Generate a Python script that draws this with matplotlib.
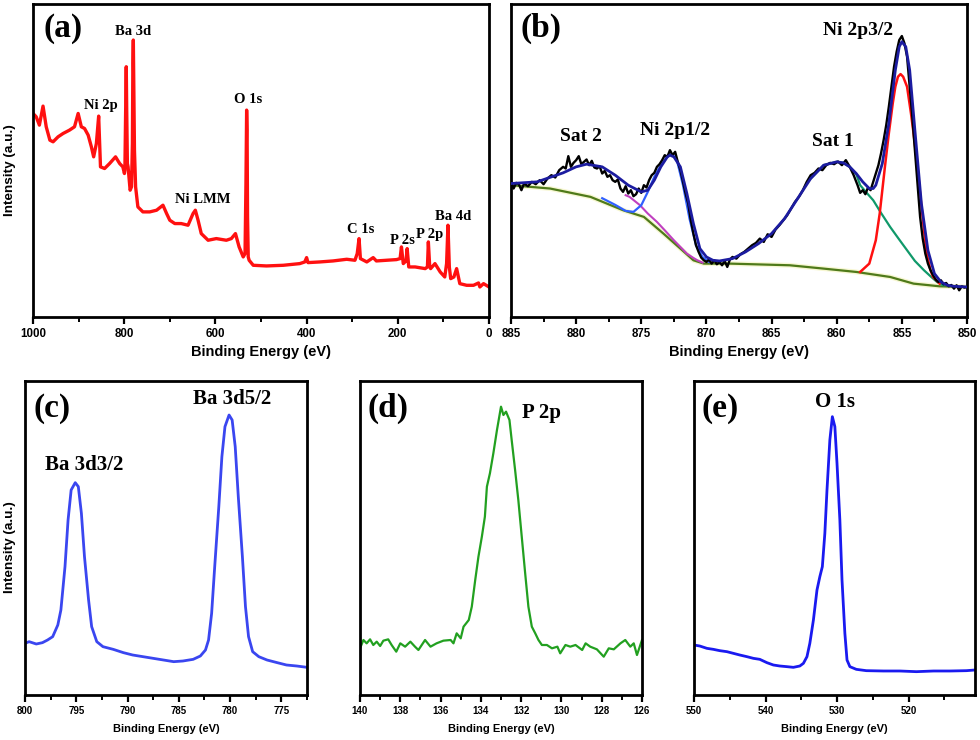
import matplotlib
matplotlib.use("Agg")
import matplotlib.pyplot as plt
from matplotlib.ticker import MultipleLocator

# ---------------- data ----------------
# (a) survey spectrum
a_energy = [1000, 993, 986, 978, 971, 963, 956, 945, 934, 920, 909, 901, 894, 887,
            879, 872, 867, 861, 856, 852, 843, 832, 819, 810, 803, 799.5, 798.5, 797,
            795.5, 794.5, 793, 791.5, 787, 784, 782, 781, 780, 779, 777.5, 775, 770,
            759, 744, 729, 715, 707, 700, 689, 675, 660, 649, 644, 638, 631, 616, 598,
            576, 565, 556, 548, 539, 535, 533, 531.5, 530.5, 529.5, 528, 526, 517, 488,
            451, 415, 404, 400, 397, 371, 342, 312, 294, 289, 285, 282, 268, 254, 247,
            225, 203, 195, 192, 188, 182, 179.5, 176, 162, 140, 135, 133, 130, 128,
            118.5, 107, 97, 93, 90, 87, 84, 77, 71, 64, 49, 34, 23, 20, 12, 0]
a_intensity = [610, 600, 575, 632, 570, 530, 525, 540, 550, 560, 570, 610, 570, 565,
               545, 510, 480, 520, 602, 450, 445, 460, 480, 460, 450, 430, 440, 600,
               750, 620, 460, 450, 380, 390, 520, 760, 830, 700, 500, 390, 330,
               315, 315, 320, 335, 310, 290, 280, 280, 275, 310, 320, 290, 250, 230, 235,
               230, 235, 250, 210, 180, 190, 400, 620, 560, 300, 180, 170, 155, 153,
               155, 160, 165, 178, 163, 165, 168, 173, 170, 190, 235, 175, 165, 178, 168,
               170, 172, 175, 210, 160, 168, 205, 150, 150, 145, 150, 225, 150, 145,
               160, 135, 120, 160, 275, 150, 115, 120, 145, 100, 95, 95, 102, 90, 100, 90]
a_labels = ["Ba 3d", "Ni 2p", "O 1s", "Ni LMM", "C 1s", "P 2s", "P 2p", "Ba 4d"]
a_label_E = [780.5, 852, 528, 627, 281.5, 190, 129.5, 78]
a_label_I = [855, 635, 652, 352, 262, 230, 247, 302]

# (b) Ni 2p high-resolution spectrum and fit
b_energy = [885.0, 884.8, 884.6, 884.4, 884.2, 884.0, 883.7, 883.4, 883.1, 882.8, 882.5,
            882.2, 881.9, 881.6, 881.3, 881.0, 880.8, 880.6, 880.4, 880.2, 880.0, 879.8,
            879.6, 879.4, 879.2, 879.0, 878.8, 878.6, 878.4, 878.2, 878.0, 877.8, 877.6,
            877.4, 877.2, 877.0, 876.8, 876.6, 876.4, 876.2, 876.0, 875.8, 875.6, 875.4,
            875.2, 875.0, 874.8, 874.6, 874.4, 874.2, 874.0, 873.8, 873.6, 873.4, 873.2,
            873.0, 872.8, 872.6, 872.4, 872.2, 872.0, 871.8, 871.6, 871.4, 871.2, 871.0,
            870.8, 870.6, 870.4, 870.2, 870.0, 869.8, 869.6, 869.4, 869.2, 869.0, 868.8,
            868.6, 868.4, 868.2, 868.0, 867.7, 867.4, 867.1, 866.8, 866.5, 866.2, 865.9,
            865.6, 865.3, 865.0, 864.7, 864.4, 864.1, 863.8, 863.5, 863.2, 862.9, 862.6,
            862.3, 862.0, 861.7, 861.4, 861.1, 860.8, 860.5, 860.2, 859.9, 859.6, 859.3,
            859.0, 858.7, 858.4, 858.2, 858.0, 857.8, 857.6, 857.4, 857.2, 857.0, 856.8,
            856.6, 856.4, 856.2, 856.0, 855.8, 855.6, 855.4, 855.2, 855.0, 854.8, 854.6,
            854.4, 854.2, 854.0, 853.8, 853.6, 853.4, 853.2, 853.0, 852.8, 852.6, 852.4,
            852.2, 852.0, 851.8, 851.6, 851.4, 851.2, 851.0, 850.8, 850.6, 850.4, 850.2,
            850.0]
b_intensity = [405, 385, 402, 398, 380, 400, 392, 405, 398, 410, 398,
               415, 425, 418, 440, 450, 445, 482, 450, 462, 470, 482,
               458, 465, 472, 455, 468, 448, 445, 452, 430, 438, 420,
               425, 410, 405, 412, 385, 375, 392, 370, 380, 362, 368,
               385, 372, 395, 388, 410, 425, 432, 450, 458, 470, 485,
               480, 500, 485, 495, 465, 440, 405, 370, 340, 290, 250,
               215, 195, 178, 170, 165, 172, 160, 170, 158, 165, 155,
               168, 150, 172, 180, 175, 188, 195, 205, 215, 222, 235,
               225, 248, 240, 262, 275, 290, 305, 325, 345, 360, 380,
               405, 425, 432, 445, 440, 455, 462, 458, 466, 455, 470,
               450, 425, 395, 372, 380, 368, 388, 380, 405, 430, 455,
               490, 530, 575, 630, 690, 750, 795, 830, 842, 820, 780,
               690, 600, 500, 400, 300, 235, 190, 160, 140, 125, 112,
               105, 110, 98, 102, 92, 96, 85, 95, 80, 92, 88,
               90]
env_energy = [885, 883, 881, 880, 879.2, 878, 877, 876, 875, 874.5, 874, 873.5, 873,
              872.8, 872.5, 872, 871.5, 871, 870.5, 870, 869.5, 869, 868, 867, 866,
              865, 864, 863, 862, 861, 860, 859.5, 859, 858.5, 858, 857.5, 857.2, 857,
              856.5, 856, 855.5, 855.2, 855, 854.7, 854.4, 854, 853.5, 853, 852.5, 852,
              851.5, 851, 850]
env_intensity = [400, 405, 432, 450, 458, 450, 425, 395, 375, 380, 410, 450, 480,
                 485, 480, 450, 370, 280, 205, 180, 170, 168, 175, 195, 220,
                 250, 295, 355, 415, 455, 465, 462, 450, 430, 405, 385, 385, 395,
                 460, 580, 740, 810, 825, 810, 740, 560, 340, 200, 130, 105,
                 95, 92, 90]
red_energy = [858.2, 857.5, 857.0, 856.7, 856.3, 856.0, 855.7, 855.5, 855.3, 855.1,
              854.9, 854.6, 854.3, 854.1, 853.8, 853.6, 853.3, 853.1, 852.8, 852.6, 852.1]
red_intensity = [135, 160, 230, 310, 450, 550, 640, 690, 720, 728,
                 720, 690, 610, 550, 450, 370, 260, 190, 140, 120, 100]
green_energy = [862, 861, 860, 859.5, 859, 858.5, 858.2, 857.7, 857.2, 856.6, 855.9,
                855.2, 854.6, 854.0, 853.3, 852.8, 852.3, 851.8]
green_intensity = [415, 455, 465, 462, 450, 428, 395, 372, 350, 312, 270,
                   232, 200, 168, 140, 122, 105, 95]
magenta_energy = [876.2, 875.9, 875.1, 874.5, 873.8, 873.2, 872.5, 872.0, 871.5,
                  871.0, 870.7, 870.3]
magenta_intensity = [365, 360, 335, 310, 285, 260, 230, 210, 190, 177, 170, 163]
lblue_energy = [878.0, 877.0, 876.2, 875.6, 875.0, 874.5, 874.0, 873.5, 873.0, 872.7,
                872.3, 871.8, 871.3, 870.8, 870.3, 869.8]
lblue_intensity = [356, 336, 318, 315, 335, 375, 420, 455, 480, 488,
                   475, 395, 295, 215, 180, 165]
bg_energy = [885, 882, 878.9, 876.4, 874.8, 873.3, 872, 871, 870.2, 868.2, 863.6,
             861, 858.5, 855.9, 854.1, 852.1, 850]
bg_intensity = [395, 385, 360, 320, 300, 250, 205, 170, 160, 160, 155,
                145, 135, 120, 100, 92, 90]
b_labels = ["Sat 2", "Ni 2p1/2", "Sat 1", "Ni 2p3/2"]
b_label_E = [879.6, 872.4, 860.3, 858.35]
b_label_I = [540, 560, 525, 860]

# (c) Ba 3d
c_energy = [800, 799.6, 798.9, 798.3, 797.8, 797.3, 796.8, 796.5, 796.1, 795.8, 795.5,
            795.1, 794.8, 794.5, 794.2, 793.8, 793.5, 793.0, 792.4, 791.4, 790.4, 789.5,
            788.5, 787.5, 786.5, 785.5, 784.6, 783.6, 782.9, 782.4, 782.1, 781.8, 781.5,
            781.1, 780.8, 780.5, 780.1, 779.8, 779.5, 779.2, 778.8, 778.5, 778.2, 777.8,
            777.2, 776.4, 775.4, 774.5, 773.5, 772.5]
c_intensity = [155, 160, 153, 157, 165, 175, 210, 255, 385, 525, 615,
               637, 625, 545, 415, 285, 205, 160, 145, 137, 127, 120,
               115, 110, 105, 100, 102, 107, 117, 135, 165, 245, 385,
               565, 715, 805, 840, 825, 745, 595, 415, 265, 175, 130,
               115, 105, 97, 90, 87, 83]
c_labels = ["Ba 3d3/2", "Ba 3d5/2"]
c_label_E = [794.2, 779.8]
c_label_I = [690, 888]

# (d) P 2p
d_energy = [140.0, 139.83, 139.67, 139.5, 139.34, 139.17, 139.0, 138.84, 138.6, 138.43,
            138.2, 138.0, 137.76, 137.5, 137.27, 137.1, 136.77, 136.5, 136.2, 135.86,
            135.5, 135.36, 135.2, 135.0, 134.86, 134.6, 134.45, 134.28, 134.12, 133.95,
            133.8, 133.7, 133.55, 133.38, 133.2, 133.0, 132.88, 132.75, 132.58, 132.47,
            132.3, 132.14, 131.97, 131.8, 131.64, 131.47, 131.3, 131.14, 130.97, 130.72,
            130.47, 130.2, 130.06, 129.8, 129.56, 129.3, 128.97, 128.8, 128.57, 128.24,
            127.9, 127.65, 127.4, 127.07, 126.83, 126.58, 126.41, 126.25, 126.0]
d_intensity = [140, 165, 155, 167, 150, 160, 147, 163, 167, 150,
               130, 155, 145, 160, 145, 135, 165, 145, 155, 163,
               165, 155, 185, 170, 205, 225, 265, 345, 415, 475,
               535, 625, 665, 725, 795, 865, 840, 850, 825, 765,
               675, 585, 475, 365, 265, 205, 185, 165, 150, 150,
               140, 145, 125, 150, 145, 150, 135, 155, 145, 137,
               115, 140, 137, 155, 165, 145, 155, 120, 165]
d_labels = ["P 2p"]
d_label_E = [131.0]
d_label_I = [845]

# (e) O 1s
e_energy = [550, 549.2, 548.2, 547.3, 546.4, 545.4, 544.5, 543.6, 542.6, 541.7, 540.8,
            539.8, 538.9, 538.0, 537.0, 536.1, 535.2, 534.7, 534.2, 533.8, 533.3, 532.8,
            532.4, 532.05, 531.7, 531.4, 531.0, 530.65, 530.3, 530.0, 529.6, 529.3,
            528.9, 528.6, 528.2, 527.3, 525.9, 523.5, 521.2, 518.9, 516.5, 514.2,
            511.9, 510.7]
e_intensity = [150, 147, 140, 137, 133, 130, 125, 120, 115, 110, 107,
               97, 90, 87, 85, 83, 87, 95, 115, 155, 225, 315,
               355, 385, 485, 615, 765, 835, 805, 695, 525, 345,
               185, 105, 85, 77, 73, 72, 72, 70, 72, 72,
               73, 75]
e_labels = ["O 1s"]
e_label_E = [530.3]
e_label_I = [880]

# ---------------- figure ----------------
plt.rcParams['font.family'] = ['Liberation Sans', 'DejaVu Sans']
SERIF = ['Liberation Serif', 'DejaVu Serif']

W, H = 980, 740
fig = plt.figure(figsize=(W / 100, H / 100), dpi=100)


def rect(l, t, r, b):
    return [l / W, 1 - b / H, (r - l) / W, (b - t) / H]


def style(ax, xlim, ylim, major, minor, small):
    ax.set_xlim(*xlim)
    ax.set_ylim(*ylim)
    ax.set_yticks([])
    ax.xaxis.set_major_locator(MultipleLocator(major))
    ax.xaxis.set_minor_locator(MultipleLocator(minor))
    for s in ax.spines.values():
        s.set_linewidth(2.0)
        s.set_color('black')
    ax.tick_params(axis='x', which='major', direction='out', length=5, width=1.6,
                   pad=3, colors='black')
    ax.tick_params(axis='x', which='minor', direction='out', length=3.5, width=1.4)
    for lab in ax.get_xticklabels():
        lab.set_fontsize(7.0 if small else 8.3)
        lab.set_fontweight('bold')


def panel_letter(ax, txt, x, y):
    ax.text(x, y, txt, transform=ax.transAxes, ha='center', va='center',
            fontsize=24, fontweight='bold', family=SERIF)


# (a)
ax = fig.add_axes(rect(33, 4, 489, 317))
ax.plot(a_energy, a_intensity, color='#ff1010', lw=2.4)
style(ax, (1000, 0), (0, 938), 200, 100, False)
for t, e, i in zip(a_labels, a_label_E, a_label_I):
    ax.text(e, i, t, ha='center', va='center', fontsize=10.5, fontweight='bold',
            family=SERIF)
panel_letter(ax, '(a)', 0.066, 0.923)
fig.text(261 / W, 1 - 352 / H, 'Binding Energy (eV)', ha='center', va='center',
         fontsize=10.5, fontweight='bold')
fig.text(10 / W, 1 - 170 / H, 'Intensity (a.u.)', ha='center', va='center',
         rotation=90, fontsize=9.7, fontweight='bold')

# (b)
ax = fig.add_axes(rect(511, 4, 967, 317))
ax.plot(bg_energy, bg_intensity, color='#f7f7d2', lw=3.5, zorder=1)
ax.plot(bg_energy, bg_intensity, color='#4f7a1a', lw=1.6, zorder=2)
ax.plot(magenta_energy, magenta_intensity, color='#c040c0', lw=1.5, zorder=3)
ax.plot(lblue_energy, lblue_intensity, color='#3060ff', lw=1.6, zorder=3)
ax.plot(green_energy, green_intensity, color='#10996a', lw=1.6, zorder=3)
ax.plot(red_energy, red_intensity, color='#ff1010', lw=1.8, zorder=3)
ax.plot(b_energy, b_intensity, color='black', lw=1.7, zorder=4)
ax.plot(env_energy, env_intensity, color='#1c1ca0', lw=2.0, zorder=5)
style(ax, (885, 850), (0, 938), 5, 2.5, False)
for t, e, i in zip(b_labels, b_label_E, b_label_I):
    ax.text(e, i, t, ha='center', va='center', fontsize=14, fontweight='bold',
            family=SERIF)
panel_letter(ax, '(b)', 0.066, 0.923)
fig.text(739 / W, 1 - 352 / H, 'Binding Energy (eV)', ha='center', va='center',
         fontsize=10.5, fontweight='bold')

# (c)
ax = fig.add_axes(rect(25, 381, 307, 695))
ax.plot(c_energy, c_intensity, color='#3a46f0', lw=2.0)
style(ax, (800, 772.5), (0, 942), 5, 2.5, True)
for t, e, i in zip(c_labels, c_label_E, c_label_I):
    ax.text(e, i, t, ha='center', va='center', fontsize=15, fontweight='bold',
            family=SERIF)
panel_letter(ax, '(c)', 0.096, 0.914)
fig.text(166 / W, 1 - 729 / H, 'Binding Energy (eV)', ha='center', va='center',
         fontsize=8.0, fontweight='bold')
fig.text(10 / W, 1 - 547 / H, 'Intensity (a.u.)', ha='center', va='center',
         rotation=90, fontsize=9.7, fontweight='bold')

# (d)
ax = fig.add_axes(rect(360, 381, 642, 695))
ax.plot(d_energy, d_intensity, color='#22a020', lw=1.6)
style(ax, (140, 126), (0, 942), 2, 1, True)
for t, e, i in zip(d_labels, d_label_E, d_label_I):
    ax.text(e, i, t, ha='center', va='center', fontsize=15, fontweight='bold',
            family=SERIF)
panel_letter(ax, '(d)', 0.099, 0.914)
fig.text(501 / W, 1 - 729 / H, 'Binding Energy (eV)', ha='center', va='center',
         fontsize=8.0, fontweight='bold')

# (e)
ax = fig.add_axes(rect(694, 381, 975, 695))
ax.plot(e_energy, e_intensity, color='#1a1af0', lw=2.0)
style(ax, (550, 510.7), (0, 942), 10, 5, True)
for t, e, i in zip(e_labels, e_label_E, e_label_I):
    ax.text(e, i, t, ha='center', va='center', fontsize=15, fontweight='bold',
            family=SERIF)
panel_letter(ax, '(e)', 0.093, 0.914)
fig.text(834 / W, 1 - 729 / H, 'Binding Energy (eV)', ha='center', va='center',
         fontsize=8.0, fontweight='bold')

fig.savefig('out.png', dpi=100)
